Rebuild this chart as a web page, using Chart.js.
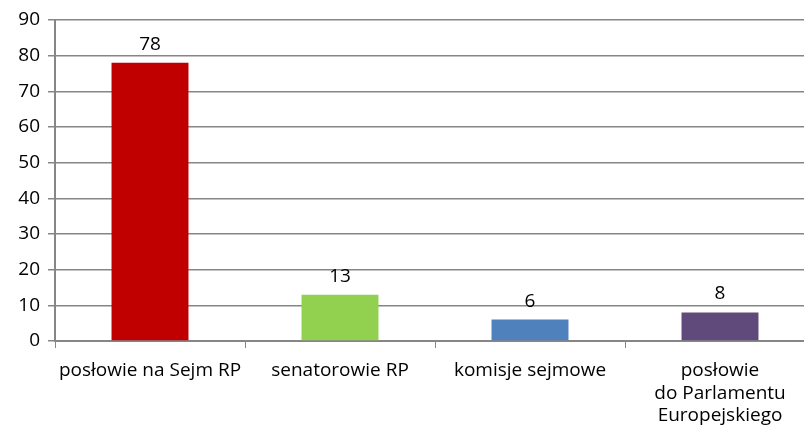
<!DOCTYPE html>
<html>
<head>
<meta charset="utf-8">
<script src="https://cdn.jsdelivr.net/npm/chart.js@4/dist/chart.umd.min.js"></script>
<style>
  html, body { margin: 0; padding: 0; background: #fff; overflow: hidden; }
  #wrap { position: absolute; left: 0; top: 0; width: 830px; height: 432px; }
</style>
</head>
<body>
<div id="wrap"><canvas id="chart"></canvas></div>
<script>
const categories = ["posłowie na Sejm RP", "senatorowie RP", "komisje sejmowe", ["posłowie", "do Parlamentu", "Europejskiego"]];
const values = [78, 13, 6, 8];
const barcolors = ["#C00000", "#92D050", "#4F81BD", "#604A7B"];
const yticks = [0, 10, 20, 30, 40, 50, 60, 70, 80, 90];

Chart.defaults.font.family = "'Open Sans', 'Noto Sans', sans-serif";
Chart.defaults.font.size = 18;
Chart.defaults.color = "#000";

const valuelabels = {
    id: "valuelabels",
    afterDatasetsDraw(chart) {
        const c = chart.ctx;
        const meta = chart.getDatasetMeta(0);
        c.save();
        c.font = "19px 'Open Sans', 'Noto Sans', sans-serif";
        c.fillStyle = "#000";
        c.textAlign = "center";
        c.textBaseline = "bottom";
        meta.data.forEach((bar, i) => {
            c.fillText(String(values[i]), bar.x, bar.y - 9);
        });
        c.restore();
    },
};

new Chart(document.getElementById("chart"), {
    type: "bar",
    data: {
        labels: categories,
        datasets: [{
            data: values,
            backgroundColor: barcolors,
            categoryPercentage: 1,
            barPercentage: 0.405,
        }],
    },
    options: {
        responsive: true,
        maintainAspectRatio: false,
        animation: false,
        layout: { padding: { top: 20, right: 15, left: 0, bottom: 0 } },
        plugins: { legend: { display: false }, tooltip: { enabled: false } },
        scales: {
            x: {
                grid: { drawOnChartArea: false, color: "#868686", tickLength: 7, offset: true },
                border: { color: "#868686", width: 2 },
                ticks: { maxRotation: 0, autoSkip: false, padding: 11, font: { size: 19, lineHeight: 1.2 } },
                afterFit(scale) { scale.height = 91; },
            },
            y: {
                min: 0,
                max: 90,
                afterBuildTicks(scale) { scale.ticks = yticks.map((v) => ({ value: v })); },
                grid: { color: "#868686", lineWidth: 1.5, tickLength: 7 },
                border: { color: "#868686", width: 2 },
                ticks: { padding: 8, font: { size: 19 } },
                afterFit(scale) { scale.width = 55; },
            },
        },
    },
    plugins: [valuelabels],
});
</script>
</body>
</html>
